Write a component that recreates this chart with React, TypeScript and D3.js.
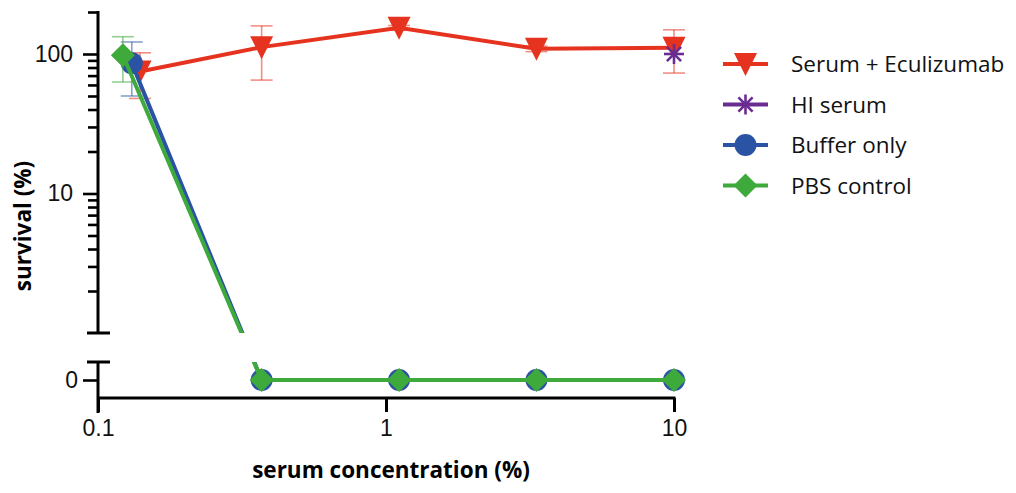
import React, { useEffect, useRef } from "react";
import * as d3 from "d3";

// serum concentrations (%) per series (first point slightly nudged as in the figure)
const eculizumabX = [0.14, 0.37, 1.11, 3.33, 10];
const eculizumabY = [75, 112, 154, 109, 111];
const eculizumabSD = [27, 47, 6, 5, 38];

const hiSerumX = [10];
const hiSerumY = [100];
const hiSerumSD = [0];

const bufferX = [0.131, 0.37, 1.11, 3.33, 10];
const bufferY = [86, 0, 0, 0, 0];
const bufferSD = [36, 0, 0, 0, 0];

const pbsX = [0.122, 0.37, 1.11, 3.33, 10];
const pbsY = [98, 0, 0, 0, 0];
const pbsSD = [35, 0, 0, 0, 0];

const seriesNames = ["Serum + Eculizumab", "HI serum", "Buffer only", "PBS control"];
const xTicks = [0.1, 1, 10];
const yMajorTicks = [10, 100];
const yMinorTicks = [2, 3, 4, 5, 6, 7, 8, 9, 20, 30, 40, 50, 60, 70, 80, 90, 200];
const yZeroTicks = [0];

const FONT = "'Open Sans', 'Noto Sans', sans-serif";

const App = () => {
  const ref = useRef<SVGSVGElement>(null);

  useEffect(() => {
    const svg = d3.select(ref.current);
    svg.selectAll("*").remove();

    const x = d3.scaleLog().domain([0.1, 10]).range([98, 674]);
    const yTop = d3.scaleLog().domain([1, 200]).range([333, 12]);
    const yBot = d3.scaleLinear().domain([-1, 1]).range([398, 362]);
    const yv = (v: number) => (v > 0 ? yTop(v) : yBot(0));

    const series = [
      { name: seriesNames[0], xs: eculizumabX, ys: eculizumabY, sd: eculizumabSD, color: "#E6331F", marker: "triangle" },
      { name: seriesNames[1], xs: hiSerumX, ys: hiSerumY, sd: hiSerumSD, color: "#6A2C91", marker: "asterisk" },
      { name: seriesNames[2], xs: bufferX, ys: bufferY, sd: bufferSD, color: "#2B53A4", marker: "circle" },
      { name: seriesNames[3], xs: pbsX, ys: pbsY, sd: pbsSD, color: "#3EAA3B", marker: "diamond" },
    ];

    // clip for the broken y axis (line hidden in the gap)
    const defs = svg.append("defs");
    const clip = defs.append("clipPath").attr("id", "segments");
    clip.append("rect").attr("x", 98).attr("y", 0).attr("width", 620).attr("height", 333);
    clip.append("rect").attr("x", 98).attr("y", 362).attr("width", 620).attr("height", 36);

    // axes
    const axes = svg.append("g").attr("font-family", FONT);

    const xAxis = axes
      .append("g")
      .attr("transform", "translate(0,398)")
      .call(d3.axisBottom(x).tickValues(xTicks).tickSize(14).tickSizeOuter(0).tickPadding(8).tickFormat(d3.format("")));
    xAxis.select(".domain").remove();
    xAxis.selectAll("line").attr("stroke", "#000").attr("stroke-width", 3);
    xAxis.selectAll("text").attr("font-size", 23).attr("fill", "#111");
    axes.append("line").attr("x1", 98).attr("x2", 675.5).attr("y1", 398).attr("y2", 398).attr("stroke", "#000").attr("stroke-width", 3);

    const yMajor = axes
      .append("g")
      .attr("transform", "translate(98,0)")
      .call(d3.axisLeft(yTop).tickValues(yMajorTicks).tickSize(15).tickSizeOuter(0).tickPadding(10).tickFormat(d3.format("")));
    const yMinor = axes
      .append("g")
      .attr("transform", "translate(98,0)")
      .call(d3.axisLeft(yTop).tickValues(yMinorTicks).tickSize(10).tickSizeOuter(0).tickFormat(() => ""));
    const yZero = axes
      .append("g")
      .attr("transform", "translate(98,0)")
      .call(d3.axisLeft(yBot).tickValues(yZeroTicks).tickSize(15).tickSizeOuter(0).tickPadding(5).tickFormat(d3.format("")));
    [yMajor, yMinor, yZero].forEach((g) => {
      g.select(".domain").remove();
      g.selectAll("line").attr("stroke", "#000").attr("stroke-width", 2.6);
      g.selectAll("text").attr("font-size", 23).attr("fill", "#111");
    });

    // axis segments with caps at the break
    axes.append("line").attr("x1", 98).attr("x2", 98).attr("y1", 11).attr("y2", 334).attr("stroke", "#000").attr("stroke-width", 3);
    axes.append("line").attr("x1", 87).attr("x2", 110).attr("y1", 333).attr("y2", 333).attr("stroke", "#000").attr("stroke-width", 3);
    axes.append("line").attr("x1", 98).attr("x2", 98).attr("y1", 361).attr("y2", 413).attr("stroke", "#000").attr("stroke-width", 3);
    axes.append("line").attr("x1", 87).attr("x2", 110).attr("y1", 362).attr("y2", 362).attr("stroke", "#000").attr("stroke-width", 3);

    // axis titles
    axes
      .append("text")
      .attr("x", 391)
      .attr("y", 478)
      .attr("text-anchor", "middle")
      .attr("font-size", 22.5)
      .attr("font-weight", "bold")
      .text("serum concentration (%)");
    axes
      .append("text")
      .attr("transform", "translate(31,226) rotate(-90)")
      .attr("text-anchor", "middle")
      .attr("font-size", 22.5)
      .attr("font-weight", "bold")
      .text("survival (%)");

    const drawMarker = (g: any, type: string, color: string, cx: number, cy: number) => {
      if (type === "triangle") {
        g.append("path").attr("d", `M${cx - 11.5},${cy - 11}L${cx + 11.5},${cy - 11}L${cx},${cy + 12}Z`).attr("fill", color);
      } else if (type === "circle") {
        g.append("circle").attr("cx", cx).attr("cy", cy).attr("r", 11).attr("fill", color);
      } else if (type === "diamond") {
        g.append("path").attr("d", `M${cx},${cy - 12}L${cx + 12},${cy}L${cx},${cy + 12}L${cx - 12},${cy}Z`).attr("fill", color);
      } else {
        d3.range(4).forEach((i) => {
          const a = (i * Math.PI) / 4;
          g.append("line")
            .attr("x1", cx - 10 * Math.sin(a))
            .attr("x2", cx + 10 * Math.sin(a))
            .attr("y1", cy - 10 * Math.cos(a))
            .attr("y2", cy + 10 * Math.cos(a))
            .attr("stroke", color)
            .attr("stroke-width", 2.6);
        });
      }
    };

    // series
    series.forEach((s) => {
      const g = svg.append("g");
      const pts = s.xs.map((xv, i) => [x(xv), yv(s.ys[i])] as [number, number]);

      // error bars
      s.xs.forEach((xv, i) => {
        if (!s.sd[i] || s.ys[i] <= 0) return;
        const cx = x(xv);
        const y1 = yTop(s.ys[i] + s.sd[i]);
        const y2 = yTop(s.ys[i] - s.sd[i]);
        const eb = g.append("g").attr("stroke", s.color).attr("stroke-opacity", 0.55).attr("stroke-width", 1.6);
        eb.append("line").attr("x1", cx).attr("x2", cx).attr("y1", y1).attr("y2", y2);
        eb.append("line").attr("x1", cx - 11).attr("x2", cx + 11).attr("y1", y1).attr("y2", y1);
        eb.append("line").attr("x1", cx - 11).attr("x2", cx + 11).attr("y1", y2).attr("y2", y2);
      });

      if (pts.length > 1) {
        g.append("path")
          .attr("d", d3.line()(pts))
          .attr("fill", "none")
          .attr("stroke", s.color)
          .attr("stroke-width", 4)
          .attr("clip-path", "url(#segments)");
      }
      pts.forEach(([cx, cy]) => drawMarker(g, s.marker, s.color, cx, cy));
    });

    // legend
    const legend = svg.append("g").attr("font-family", FONT);
    series.forEach((s, i) => {
      const ly = 64 + i * 40.5;
      const lg = legend.append("g");
      lg.append("line").attr("x1", 723).attr("x2", 768).attr("y1", ly).attr("y2", ly).attr("stroke", s.color).attr("stroke-width", 4);
      drawMarker(lg, s.marker, s.color, 745.5, ly);
      lg.append("text")
        .attr("x", 791)
        .attr("y", ly + 8)
        .attr("font-size", 22.5)
        .attr("fill", "#111")
        .text(s.name);
    });
  }, []);

  return (
    <svg
      ref={ref}
      width={1016}
      height={493}
      style={{ position: "absolute", left: 0, top: 0, background: "#fff" }}
    />
  );
};

export default App;
